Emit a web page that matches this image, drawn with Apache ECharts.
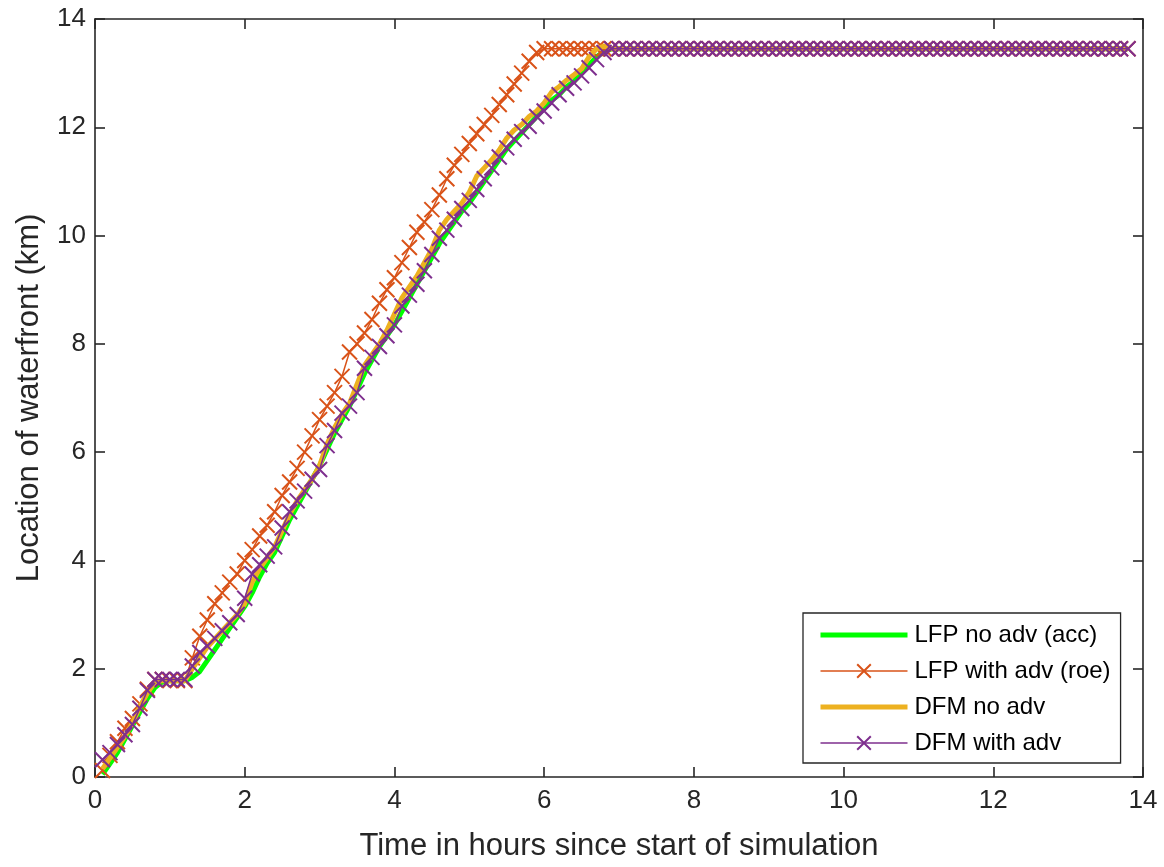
<!DOCTYPE html>
<html>
<head>
<meta charset="utf-8">
<script src="https://cdn.jsdelivr.net/npm/echarts@6/dist/echarts.min.js"></script>
<style>html,body{margin:0;padding:0;background:#fff;}#c{width:1164px;height:867px;}</style>
</head>
<body>
<div id="c"></div>
<script>
const seriesNames = ['LFP no adv (acc)', 'LFP with adv (roe)', 'DFM no adv', 'DFM with adv'];
const times = [
0.1,0.2,0.3,0.4,0.5,0.6,0.7,0.8,0.9,1.0,
1.1,1.2,1.3,1.4,1.5,1.6,1.7,1.8,1.9,2.0,
2.1,2.2,2.3,2.4,2.5,2.6,2.7,2.8,2.9,3.0,
3.1,3.2,3.3,3.4,3.5,3.6,3.7,3.8,3.9,4.0,
4.1,4.2,4.3,4.4,4.5,4.6,4.7,4.8,4.9,5.0,
5.1,5.2,5.3,5.4,5.5,5.6,5.7,5.8,5.9,6.0,
6.1,6.2,6.3,6.4,6.5,6.6,6.7,6.8,6.9,7.0,
7.1,7.2,7.3,7.4,7.5,7.6,7.7,7.8,7.9,8.0,
8.1,8.2,8.3,8.4,8.5,8.6,8.7,8.8,8.9,9.0,
9.1,9.2,9.3,9.4,9.5,9.6,9.7,9.8,9.9,10.0,
10.1,10.2,10.3,10.4,10.5,10.6,10.7,10.8,10.9,11.0,
11.1,11.2,11.3,11.4,11.5,11.6,11.7,11.8,11.9,12.0,
12.1,12.2,12.3,12.4,12.5,12.6,12.7,12.8,12.9,13.0,
13.1,13.2,13.3,13.4,13.5,13.6,13.7,13.8
];
const lfpNoAdv = [
0.05,0.25,0.45,0.7,0.95,1.2,1.45,1.65,1.76,1.78,
1.78,1.78,1.84,1.95,2.15,2.35,2.55,2.75,2.95,3.15,
3.4,3.7,3.95,4.15,4.45,4.75,5.0,5.25,5.5,5.75,
6.05,6.35,6.6,6.85,7.15,7.45,7.7,7.95,8.15,8.35,
8.6,8.85,9.1,9.35,9.6,9.85,10.05,10.25,10.45,10.6,
10.8,11.0,11.2,11.4,11.6,11.75,11.9,12.05,12.2,12.35,
12.5,12.6,12.75,12.85,13.0,13.15,13.3,13.4,13.45,
13.45,13.45,13.45,13.45,13.45,13.45,13.45,13.45,13.45,13.45,
13.45,13.45,13.45,13.45,13.45,13.45,13.45,13.45,13.45,13.45,
13.45,13.45,13.45,13.45,13.45,13.45,13.45,13.45,13.45,13.45,
13.45,13.45,13.45,13.45,13.45,13.45,13.45,13.45,13.45,13.45,
13.45,13.45,13.45,13.45,13.45,13.45,13.45,13.45,13.45,13.45,
13.45,13.45,13.45,13.45,13.45,13.45,13.45,13.45,13.45,13.45,
13.45,13.45,13.45,13.45,13.45,13.45,13.45,13.45,13.45
];
const lfpWithAdv = [
0.12,0.4,0.65,0.9,1.08,1.35,1.62,1.8,1.8,1.78,
1.78,1.78,2.2,2.6,2.9,3.2,3.4,3.6,3.75,4.0,
4.2,4.45,4.65,4.9,5.2,5.45,5.7,6.0,6.3,6.6,
6.85,7.1,7.4,7.85,8.0,8.2,8.45,8.75,9.0,9.22,
9.5,9.78,10.06,10.25,10.48,10.75,11.05,11.3,11.5,11.7,
11.88,12.05,12.22,12.42,12.6,12.8,13.0,13.22,13.38,
13.45,13.45,13.45,13.45,13.45,13.45,13.45,13.45,13.45,13.45,
13.45,13.45,13.45,13.45,13.45,13.45,13.45,13.45,13.45,13.45,
13.45,13.45,13.45,13.45,13.45,13.45,13.45,13.45,13.45,13.45,
13.45,13.45,13.45,13.45,13.45,13.45,13.45,13.45,13.45,13.45,
13.45,13.45,13.45,13.45,13.45,13.45,13.45,13.45,13.45,13.45,
13.45,13.45,13.45,13.45,13.45,13.45,13.45,13.45,13.45,13.45,
13.45,13.45,13.45,13.45,13.45,13.45,13.45,13.45,13.45,13.45,
13.45,13.45,13.45,13.45,13.45,13.45,13.45,13.45,13.45
];
const dfmNoAdv = [
0.15,0.35,0.55,0.75,1.0,1.3,1.55,1.75,1.78,1.78,
1.78,1.78,2.0,2.2,2.4,2.55,2.7,2.85,3.0,3.2,
3.6,3.85,4.05,4.25,4.55,4.85,5.1,5.3,5.5,5.75,
6.15,6.45,6.7,6.9,7.25,7.6,7.8,8.0,8.25,8.55,
8.85,9.05,9.25,9.5,9.75,10.1,10.3,10.45,10.6,10.8,
11.1,11.25,11.4,11.58,11.8,11.95,12.05,12.2,12.3,12.45,
12.65,12.75,12.87,12.97,13.08,13.3,13.45,13.5,
13.45,13.45,
13.45,13.45,13.45,13.45,13.45,13.45,13.45,13.45,13.45,13.45,
13.45,13.45,13.45,13.45,13.45,13.45,13.45,13.45,13.45,13.45,
13.45,13.45,13.45,13.45,13.45,13.45,13.45,13.45,13.45,13.45,
13.45,13.45,13.45,13.45,13.45,13.45,13.45,13.45,13.45,13.45,
13.45,13.45,13.45,13.45,13.45,13.45,13.45,13.45,13.45,13.45,
13.45,13.45,13.45,13.45,13.45,13.45,13.45,13.45,13.45,13.45,
13.45,13.45,13.45,13.45,13.45,13.45,13.45,13.45
];
const dfmWithAdv = [
0.32,0.45,0.6,0.78,0.97,1.27,1.6,1.8,1.8,1.8,
1.8,1.8,2.05,2.3,2.42,2.56,2.7,2.85,3.0,3.3,
3.75,3.92,4.08,4.25,4.6,4.9,5.1,5.28,5.5,5.68,
6.12,6.4,6.72,6.85,7.1,7.55,7.75,7.95,8.15,8.35,
8.7,8.9,9.1,9.35,9.65,9.95,10.1,10.3,10.5,10.65,
10.85,11.05,11.25,11.45,11.62,11.78,11.92,12.02,12.2,12.3,
12.45,12.6,12.72,12.82,12.95,13.1,13.25,13.38,
13.45,13.45,
13.45,13.45,13.45,13.45,13.45,13.45,13.45,13.45,13.45,13.45,
13.45,13.45,13.45,13.45,13.45,13.45,13.45,13.45,13.45,13.45,
13.45,13.45,13.45,13.45,13.45,13.45,13.45,13.45,13.45,13.45,
13.45,13.45,13.45,13.45,13.45,13.45,13.45,13.45,13.45,13.45,
13.45,13.45,13.45,13.45,13.45,13.45,13.45,13.45,13.45,13.45,
13.45,13.45,13.45,13.45,13.45,13.45,13.45,13.45,13.45,13.45,
13.45,13.45,13.45,13.45,13.45,13.45,13.45,13.45
];

const pair = vals => times.map((t, i) => [t, vals[i]]);
const XMARK = 'path://M0,0L10,10M10,0L0,10';
const AX = '#262626';
const FONT = '"Liberation Sans", Arial, Helvetica, sans-serif';
const COLORS = ['#00FF00', '#D95319', '#EDB120', '#7E2F8E'];

const chart = echarts.init(document.getElementById('c'), null, {renderer: 'canvas'});
const axisCommon = {
  type: 'value', min: 0, max: 14, interval: 2,
  axisLine: {show: true, onZero: false, lineStyle: {color: AX, width: 1.6}},
  axisTick: {show: true, inside: true, length: 10, lineStyle: {color: AX, width: 1.6}},
  splitLine: {show: false}
};
chart.setOption({
  animation: false,
  backgroundColor: '#ffffff',
  textStyle: {fontFamily: FONT},
  grid: {left: 95, right: 21, top: 19, bottom: 88, containLabel: false},
  xAxis: [
    Object.assign({}, axisCommon, {
      position: 'bottom',
      name: 'Time in hours since start of simulation',
      nameLocation: 'middle', nameGap: 54,
      nameTextStyle: {fontSize: 31, color: AX, fontFamily: FONT},
      axisLabel: {show: true, fontSize: 26, color: AX, margin: 11, fontFamily: FONT}
    }),
    Object.assign({}, axisCommon, {position: 'top', axisLabel: {show: false}})
  ],
  yAxis: [
    Object.assign({}, axisCommon, {
      position: 'left',
      name: 'Location of waterfront (km)',
      nameLocation: 'middle', nameGap: 50,
      nameTextStyle: {fontSize: 31, color: AX, fontFamily: FONT},
      axisLabel: {show: true, fontSize: 26, color: AX, margin: 9, fontFamily: FONT}
    }),
    Object.assign({}, axisCommon, {position: 'right', axisLabel: {show: false}})
  ],
  legend: {
    orient: 'vertical', left: 803, top: 613,
    backgroundColor: '#ffffff',
    borderColor: AX, borderWidth: 1.3,
    padding: [10, 10, 8, 15],
    itemWidth: 87, itemHeight: 17, itemGap: 12,
    textStyle: {fontSize: 24, color: '#000', fontFamily: FONT, padding: [0, 0, 0, 2]},
    data: [
      {name: seriesNames[0], lineStyle: {width: 5, color: COLORS[0]}, itemStyle: {color: 'rgba(0,0,0,0)', borderWidth: 0}},
      {name: seriesNames[1], lineStyle: {width: 1.5, color: COLORS[1]}},
      {name: seriesNames[2], lineStyle: {width: 5, color: COLORS[2]}, itemStyle: {color: 'rgba(0,0,0,0)', borderWidth: 0}},
      {name: seriesNames[3], lineStyle: {width: 1.5, color: COLORS[3]}}
    ]
  },
  series: [
    {name: seriesNames[0], type: 'line', data: pair(lfpNoAdv), showSymbol: false, symbol: 'none',
     lineStyle: {color: COLORS[0], width: 5}, itemStyle: {color: COLORS[0]}, z: 2},
    {name: seriesNames[1], type: 'line', data: pair(lfpWithAdv), symbol: XMARK, symbolSize: 15, showAllSymbol: true,
     lineStyle: {color: COLORS[1], width: 1.5},
     itemStyle: {color: 'rgba(0,0,0,0)', borderColor: COLORS[1], borderWidth: 2}, z: 3},
    {name: seriesNames[2], type: 'line', data: pair(dfmNoAdv), showSymbol: false, symbol: 'none',
     lineStyle: {color: COLORS[2], width: 5}, itemStyle: {color: COLORS[2]}, z: 4},
    {name: seriesNames[3], type: 'line', data: pair(dfmWithAdv), symbol: XMARK, symbolSize: 15, showAllSymbol: true,
     lineStyle: {color: COLORS[3], width: 1.5},
     itemStyle: {color: 'rgba(0,0,0,0)', borderColor: COLORS[3], borderWidth: 2}, z: 5}
  ]
});
</script>
</body>
</html>
